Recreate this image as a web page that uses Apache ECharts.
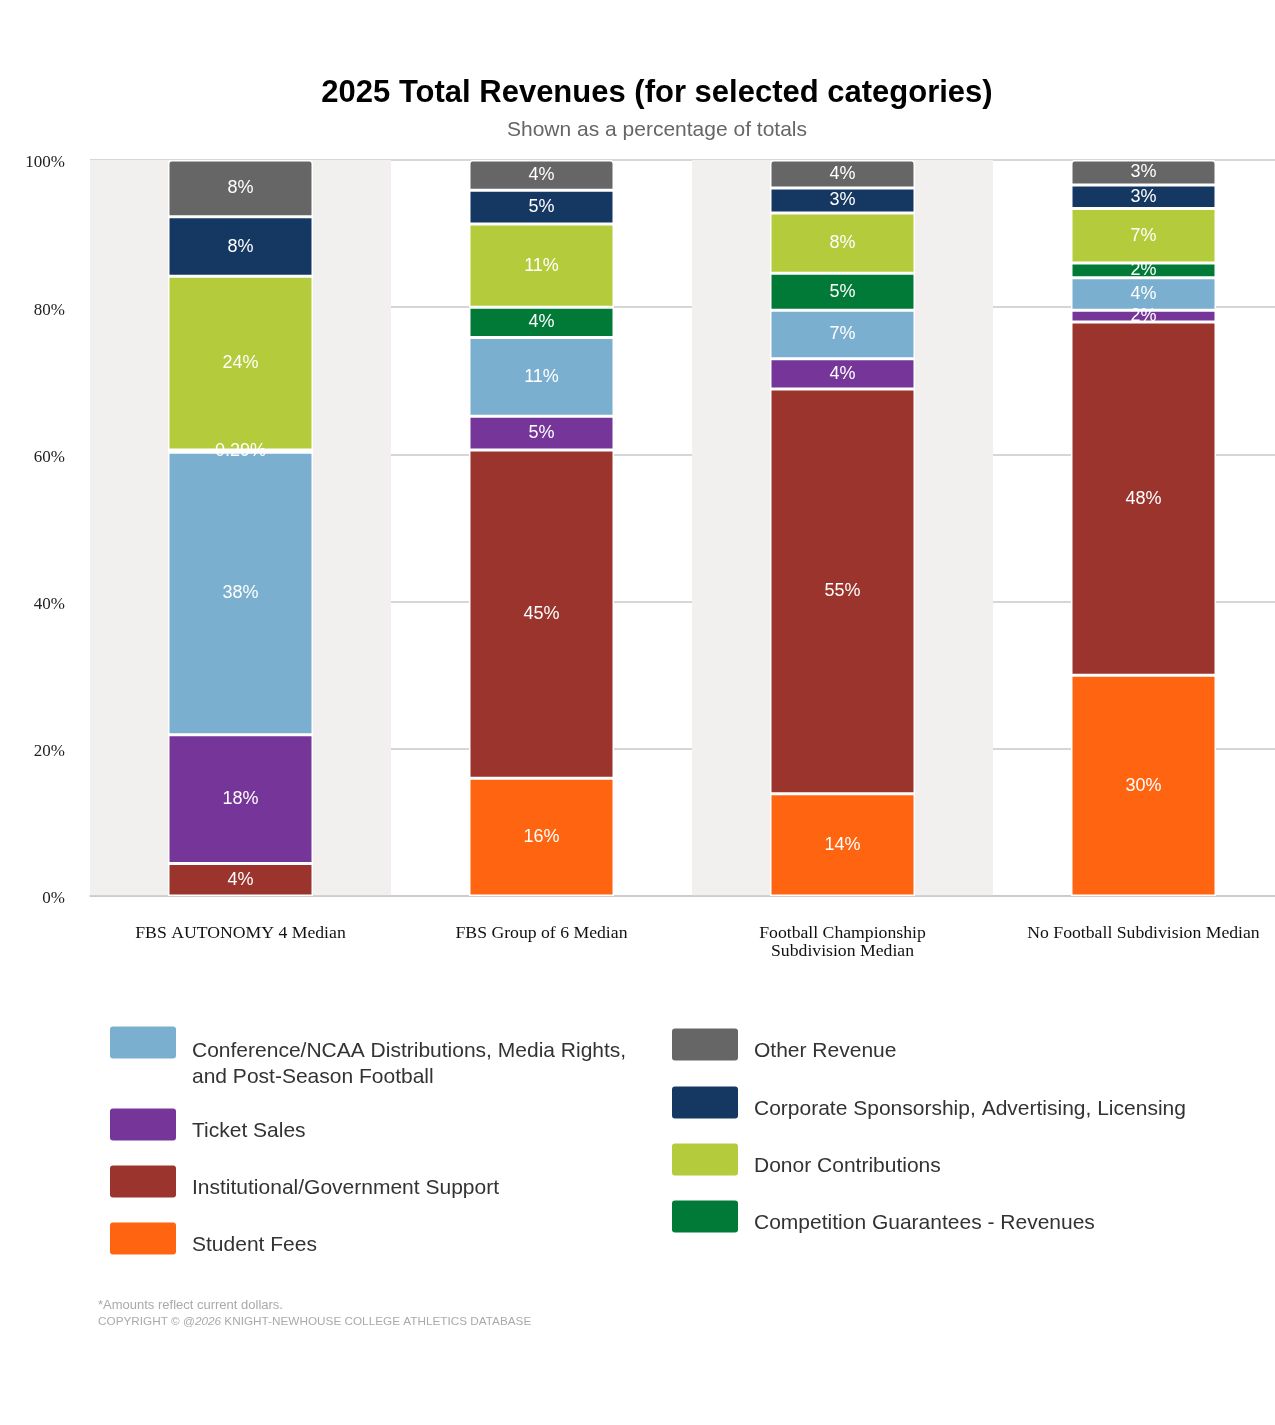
<!DOCTYPE html>
<html>
<head>
<meta charset="utf-8">
<script src="https://cdn.jsdelivr.net/npm/echarts@6/dist/echarts.min.js"></script>
<style>
  html, body { margin: 0; padding: 0; background: #fff; }
  #content { width: 1275px; height: 1425px; }
</style>
</head>
<body>
<div id="content"></div>
<script>
// categories and values (percent of total revenues)
var categories = ['FBS AUTONOMY 4 Median', 'FBS Group of 6 Median', 'Football Championship\nSubdivision Median', 'No Football Subdivision Median'];
var yTicks = [0, 20, 40, 60, 80, 100];

var studentFees   = [null, 16.0, 13.9, 30.0];
var institutional = [4.4, 44.6, 55.0, 48.0];
var ticketSales   = [17.5, 4.6, 4.1, 1.6];
var conference    = [38.4, 10.7, 6.6, 4.4];
var competition   = [0.29, 4.1, 5.0, 2.0];
var donor         = [23.6, 11.3, 8.2, 7.4];
var corporate     = [8.1, 4.6, 3.4, 3.2];
var otherRevenue  = [7.71, 4.1, 3.8, 3.4];

var names = {
    student: 'Student Fees',
    inst: 'Institutional/Government Support',
    ticket: 'Ticket Sales',
    conf: 'Conference/NCAA Distributions, Media Rights,\nand Post-Season Football',
    comp: 'Competition Guarantees - Revenues',
    donor: 'Donor Contributions',
    corp: 'Corporate Sponsorship, Advertising, Licensing',
    other: 'Other Revenue'
};

var FONT = 'Liberation Sans, Arial, sans-serif';
var SERIF = 'Liberation Serif, Times New Roman, serif';

var myChart = echarts.init(document.getElementById('content'));

function makeSeries(name, data, color, radius) {
    return {
        name: name,
        type: 'bar',
        stack: 'total',
        barWidth: 145,
        data: data,
        itemStyle: {
            color: color,
            borderColor: '#fff',
            borderWidth: 1.5,
            borderRadius: radius || 0
        },
        label: {
            show: true,
            position: 'inside',
            color: '#fff',
            fontSize: 18,
            fontFamily: FONT,
            formatter: function (p) {
                if (p.value == null || p.value === 0) return '';
                return p.value < 1 ? p.value.toFixed(2) + '%' : Math.round(p.value) + '%';
            }
        },
        emphasis: { disabled: true }
    };
}

// one legend per item so that each sits where the original puts it;
// text sits a little below the swatch centre, a wrapped name hangs down
function legendItem(name, left, top) {
    return {
        data: [name],
        left: left,
        top: top,
        padding: 0,
        itemWidth: 66,
        itemHeight: 32,
        icon: 'path://M3,0 H63 Q66,0 66,3 V29 Q66,32 63,32 H3 Q0,32 0,29 V3 Q0,0 3,0 Z',
        itemStyle: { borderWidth: 0 },
        selectedMode: false,
        formatter: function (n) {
            var parts = n.split('\n');
            if (parts.length === 1) return '{a|' + n + '}';
            return '{c|' + parts[0] + '}\n{c|' + parts[1] + '}';
        },
        textStyle: {
            fontSize: 21,
            color: '#333',
            fontFamily: FONT,
            padding: [0, 0, 0, 11],
            rich: {
                a: { fontSize: 21, lineHeight: 26, color: '#333', fontFamily: FONT, padding: [14, 0, 0, 0] },
                c: { fontSize: 21, lineHeight: 26, color: '#333', fontFamily: FONT, padding: [44, 0, 0, 0] }
            }
        }
    };
}

var option = {
    backgroundColor: '#fff',
    animation: false,
    graphic: [
        {
            type: 'text', x: 657, y: 93,
            style: {
                text: '2025 Total Revenues (for selected categories)',
                fontSize: 31, fontWeight: 'bold', fill: '#000',
                fontFamily: FONT,
                textAlign: 'center', textVerticalAlign: 'middle'
            }
        },
        {
            type: 'text', x: 657, y: 130,
            style: {
                text: 'Shown as a percentage of totals',
                fontSize: 21, fill: '#666',
                fontFamily: FONT,
                textAlign: 'center', textVerticalAlign: 'middle'
            }
        },
        {
            type: 'text', x: 98, y: 1297,
            style: {
                text: '{f|*Amounts reflect current dollars.}\n{n|COPYRIGHT © @}{i|2026}{n| KNIGHT-NEWHOUSE COLLEGE ATHLETICS DATABASE}',
                fontSize: 11.75, lineHeight: 16, fill: '#aaa',
                fontFamily: FONT,
                rich: {
                    f: { fontSize: 13, lineHeight: 17, fill: '#aaa', fontFamily: FONT },
                    n: { fontSize: 11.75, lineHeight: 16, fill: '#aaa', fontFamily: FONT },
                    i: { fontSize: 11.75, lineHeight: 16, fill: '#aaa', fontStyle: 'italic', fontFamily: FONT }
                }
            }
        }
    ],
    legend: [
        legendItem(names.conf, 110, 997),
        legendItem(names.ticket, 110, 1107),
        legendItem(names.inst, 110, 1164),
        legendItem(names.student, 110, 1221),
        legendItem(names.other, 672, 1027),
        legendItem(names.corp, 672, 1085),
        legendItem(names.donor, 672, 1142),
        legendItem(names.comp, 672, 1199)
    ],
    grid: {
        left: 90,
        width: 1204,
        top: 160,
        bottom: 529,
        outerBoundsMode: 'none',
        containLabel: false
    },
    xAxis: {
        type: 'category',
        data: categories,
        axisTick: { show: false },
        axisLine: { lineStyle: { color: '#c8c8c8', width: 1.5 } },
        axisLabel: {
            margin: 28,
            fontSize: 17.7,
            lineHeight: 18,
            color: '#111',
            fontFamily: SERIF,
            interval: 0
        },
        splitArea: {
            show: true,
            areaStyle: { color: ['#f1f0ee', 'rgba(255,255,255,0)'] }
        }
    },
    yAxis: {
        type: 'value',
        min: yTicks[0],
        max: yTicks[yTicks.length - 1],
        interval: 20,
        axisLine: { show: false },
        axisTick: { show: false },
        axisLabel: {
            margin: 25,
            fontSize: 17,
            lineHeight: 6,
            verticalAlign: 'top',
            color: '#222',
            fontFamily: SERIF,
            formatter: '{value}%'
        },
        splitLine: { lineStyle: { color: '#c8c8c8', width: 1.5 } }
    },
    series: [
        makeSeries(names.student, studentFees, '#ff6410'),
        makeSeries(names.inst, institutional, '#9b342d'),
        makeSeries(names.ticket, ticketSales, '#763598'),
        makeSeries(names.conf, conference, '#7aafcf'),
        makeSeries(names.comp, competition, '#007a36'),
        makeSeries(names.donor, donor, '#b4cb3c'),
        makeSeries(names.corp, corporate, '#143862'),
        makeSeries(names.other, otherRevenue, '#666666', [3, 3, 0, 0])
    ]
};

myChart.setOption(option);
</script>
</body>
</html>
